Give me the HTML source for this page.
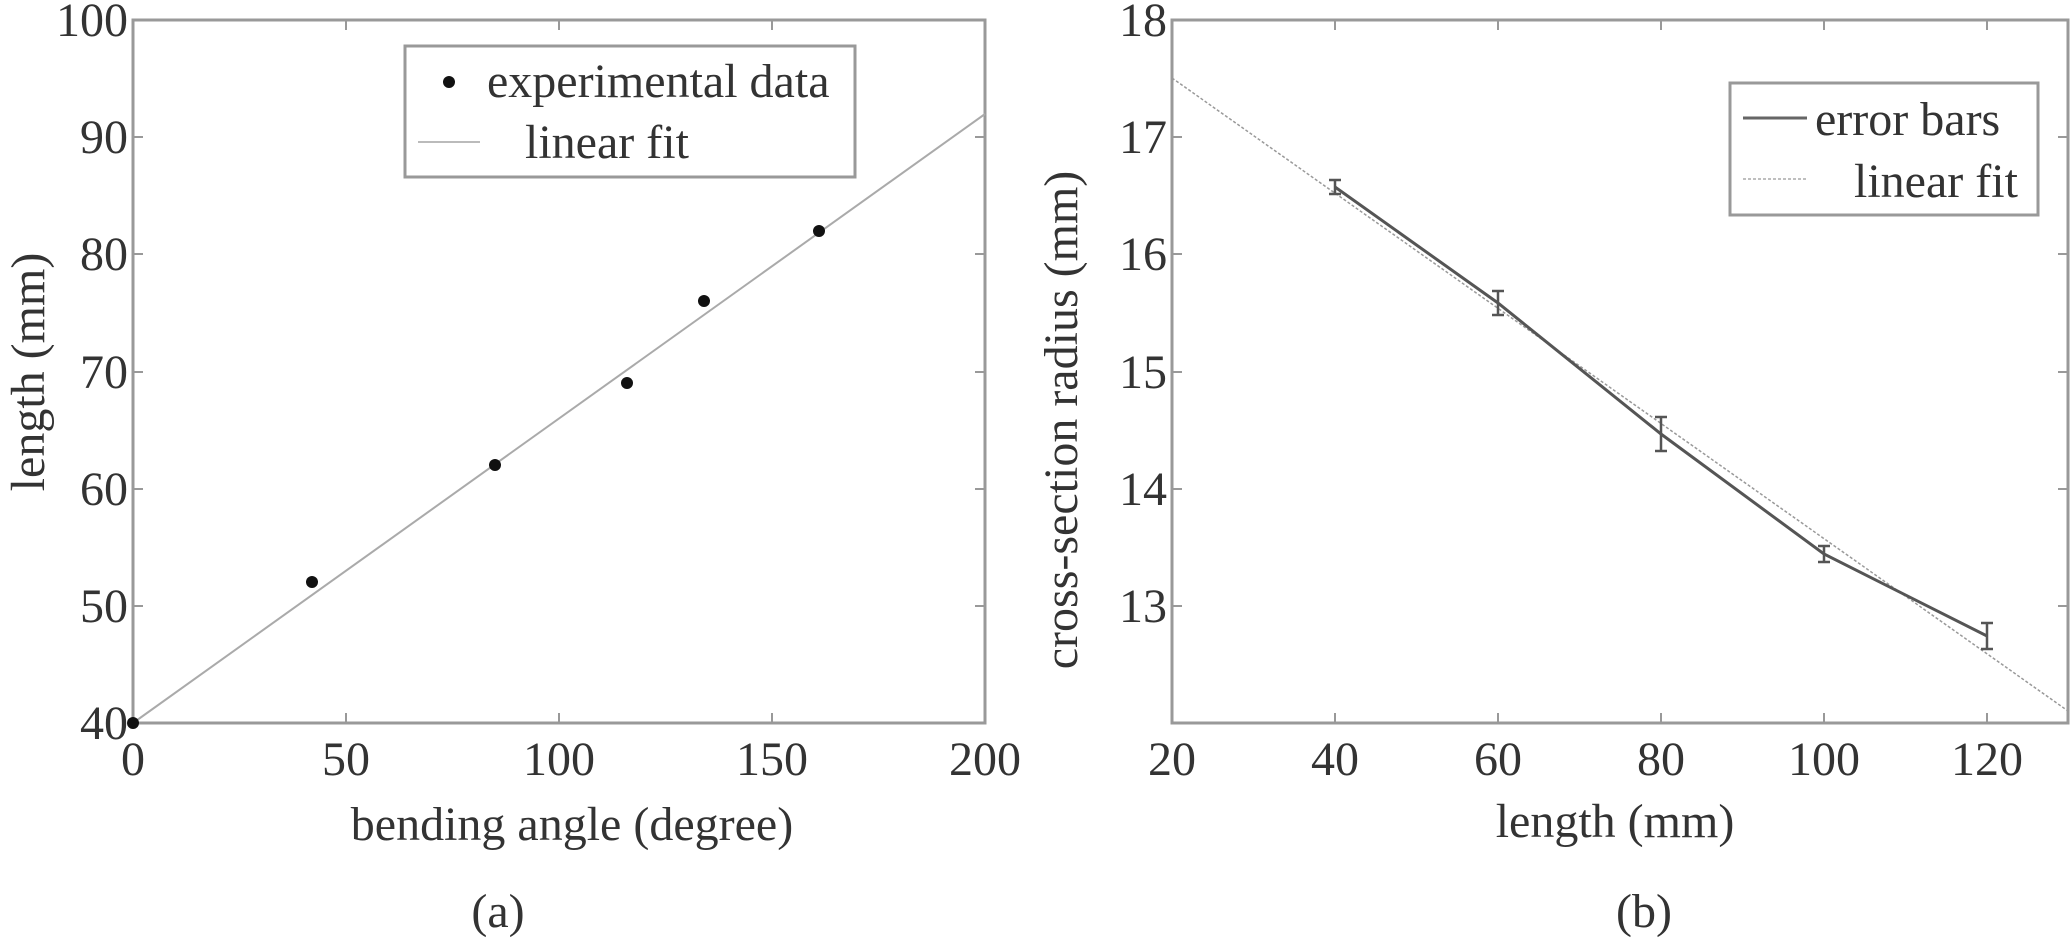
<!DOCTYPE html>
<html><head><meta charset="utf-8"><style>
html,body{margin:0;padding:0;background:#fff;}
svg{display:block;}
text{font-family:"Liberation Serif",serif;fill:#333;}
</style></head><body>
<svg width="2070" height="939" viewBox="0 0 2070 939" xmlns="http://www.w3.org/2000/svg">
<g stroke="#999" stroke-width="3" fill="none">
<rect x="133" y="20" width="852" height="703"/>
<rect x="1172" y="20" width="896" height="703"/>
</g>
<!-- left ticks -->
<g stroke="#999" stroke-width="2">
<line x1="346" y1="723" x2="346" y2="713"/><line x1="559" y1="723" x2="559" y2="713"/><line x1="772" y1="723" x2="772" y2="713"/>
<line x1="346" y1="20" x2="346" y2="30"/><line x1="559" y1="20" x2="559" y2="30"/><line x1="772" y1="20" x2="772" y2="30"/>
<line x1="133" y1="137" x2="143" y2="137"/><line x1="133" y1="254" x2="143" y2="254"/><line x1="133" y1="372" x2="143" y2="372"/><line x1="133" y1="489" x2="143" y2="489"/><line x1="133" y1="606" x2="143" y2="606"/>
<line x1="985" y1="137" x2="975" y2="137"/><line x1="985" y1="254" x2="975" y2="254"/><line x1="985" y1="372" x2="975" y2="372"/><line x1="985" y1="489" x2="975" y2="489"/><line x1="985" y1="606" x2="975" y2="606"/>
<!-- right ticks -->
<line x1="1335" y1="723" x2="1335" y2="713"/><line x1="1498" y1="723" x2="1498" y2="713"/><line x1="1661" y1="723" x2="1661" y2="713"/><line x1="1824" y1="723" x2="1824" y2="713"/><line x1="1987" y1="723" x2="1987" y2="713"/>
<line x1="1335" y1="20" x2="1335" y2="30"/><line x1="1498" y1="20" x2="1498" y2="30"/><line x1="1661" y1="20" x2="1661" y2="30"/><line x1="1824" y1="20" x2="1824" y2="30"/><line x1="1987" y1="20" x2="1987" y2="30"/>
<line x1="1172" y1="137" x2="1182" y2="137"/><line x1="1172" y1="254" x2="1182" y2="254"/><line x1="1172" y1="372" x2="1182" y2="372"/><line x1="1172" y1="489" x2="1182" y2="489"/><line x1="1172" y1="606" x2="1182" y2="606"/>
<line x1="2068" y1="137" x2="2058" y2="137"/><line x1="2068" y1="254" x2="2058" y2="254"/><line x1="2068" y1="372" x2="2058" y2="372"/><line x1="2068" y1="489" x2="2058" y2="489"/><line x1="2068" y1="606" x2="2058" y2="606"/>
</g>
<!-- left data -->
<line x1="133" y1="723" x2="985" y2="114" stroke="#aaa" stroke-width="2"/>
<g fill="#111">
<circle cx="133" cy="723" r="6"/><circle cx="312" cy="582" r="6"/><circle cx="495" cy="465" r="6"/><circle cx="627" cy="383" r="6"/><circle cx="704" cy="301" r="6"/><circle cx="819" cy="231" r="6"/>
</g>
<!-- right data -->
<line x1="1172" y1="78" x2="2068" y2="711" stroke="#999" stroke-width="1.5" stroke-dasharray="3,2"/>
<polyline points="1335,187 1498,303 1661,434 1824,554 1987,636" fill="none" stroke="#555" stroke-width="3"/>
<g stroke="#555" stroke-width="2.5" fill="none">
<path d="M1335,180V194M1329,180H1341M1329,194H1341"/>
<path d="M1498,291V315M1492,291H1504M1492,315H1504"/>
<path d="M1661,417V451M1655,417H1667M1655,451H1667"/>
<path d="M1824,546V562M1818,546H1830M1818,562H1830"/>
<path d="M1987,623V649M1981,623H1993M1981,649H1993"/>
</g>
<!-- legends -->
<rect x="405" y="46" width="450" height="131" fill="#fff" stroke="#999" stroke-width="3"/>
<circle cx="449" cy="82" r="6" fill="#111"/>
<line x1="418" y1="142" x2="480" y2="142" stroke="#bbb" stroke-width="2"/>
<text x="487" y="97" font-size="48">experimental data</text>
<text x="525" y="158" font-size="48">linear fit</text>
<rect x="1730" y="83" width="308" height="132" fill="#fff" stroke="#999" stroke-width="3"/>
<line x1="1743" y1="118" x2="1807" y2="118" stroke="#666" stroke-width="3"/>
<line x1="1743" y1="179" x2="1807" y2="179" stroke="#aaa" stroke-width="1.5" stroke-dasharray="3,2"/>
<text x="1815" y="135" font-size="48">error bars</text>
<text x="1854" y="197" font-size="48">linear fit</text>
<!-- left tick labels -->
<g font-size="48" text-anchor="end">
<text x="128" y="36">100</text><text x="128" y="153">90</text><text x="128" y="270">80</text><text x="128" y="388">70</text><text x="128" y="505">60</text><text x="128" y="622">50</text><text x="128" y="739">40</text>
<text x="1167" y="36">18</text><text x="1167" y="153">17</text><text x="1167" y="270">16</text><text x="1167" y="388">15</text><text x="1167" y="505">14</text><text x="1167" y="622">13</text>
</g>
<g font-size="48" text-anchor="middle">
<text x="133" y="775">0</text><text x="346" y="775">50</text><text x="559" y="775">100</text><text x="772" y="775">150</text><text x="985" y="775">200</text>
<text x="1172" y="775">20</text><text x="1335" y="775">40</text><text x="1498" y="775">60</text><text x="1661" y="775">80</text><text x="1824" y="775">100</text><text x="1987" y="775">120</text>
<text x="572" y="840">bending angle (degree)</text>
<text x="1615" y="837">length (mm)</text>
<text x="498" y="927">(a)</text>
<text x="1644" y="927">(b)</text>
<text transform="translate(44,372) rotate(-90)">length (mm)</text>
<text transform="translate(1077,420) rotate(-90)">cross-section radius (mm)</text>
</g>
</svg>
</body></html>
